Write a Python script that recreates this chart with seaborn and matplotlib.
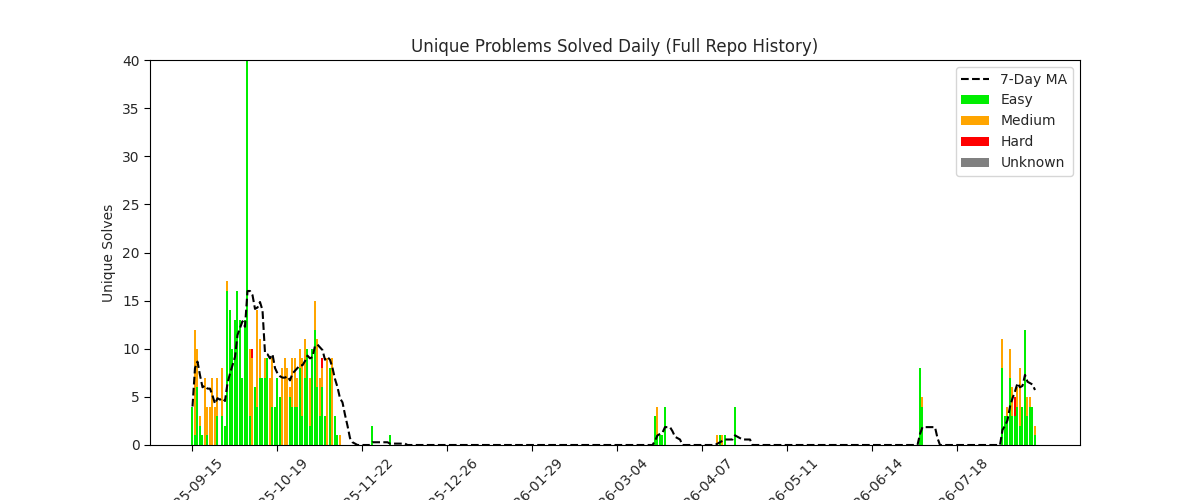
import matplotlib
matplotlib.use("Agg")
import matplotlib.pyplot as plt
import matplotlib.dates as mdates
import seaborn as sns
import pandas as pd

start = pd.Timestamp("2025-09-15")

# day offset from 2025-09-15 -> (easy, medium, hard)
day_offsets = list(range(0, 60)) + [72, 79, 185, 186, 187, 188, 189,
                                    210, 211, 212, 213, 217, 291, 292] + list(range(324, 338))
easy = [4, 1, 6, 2, 1, 0, 1, 0, 0, 0, 3, 0, 3, 2, 16, 14, 10, 13, 16, 13,
        7, 13, 40, 3, 0, 6, 4, 7, 7, 7, 9, 0, 4, 4, 7, 5, 0, 0, 0, 5,
        4, 4, 4, 8, 3, 7, 10, 2, 10, 12, 6, 3, 6, 3, 0, 8, 0, 3, 1, 0,
        2, 1, 3, 1, 1, 1, 4, 0, 1, 0, 1, 4, 8, 4,
        8, 3, 3, 7, 3, 3, 4, 2, 4, 12, 3, 4, 4, 1]
medium = [0, 11, 4, 1, 0, 7, 3, 4, 7, 4, 4, 0, 5, 0, 1, 0, 0, 0, 0, 0,
          0, 0, 0, 7, 9, 0, 10, 4, 0, 2, 0, 7, 5, 0, 0, 0, 8, 9, 8, 1,
          5, 5, 3, 2, 6, 4, 0, 5, 0, 3, 5, 4, 2, 0, 9, 0, 9, 0, 0, 1,
          0, 0, 0, 3, 0, 0, 0, 1, 0, 1, 0, 0, 0, 1,
          3, 0, 1, 3, 3, 0, 2, 6, 0, 0, 2, 1, 0, 1]
hard = [0] * 24 + [1] + [0] * 27 + [1] + [0] * 7 + [0] * 14 + [0, 0, 0, 0, 0, 2, 0, 0, 0, 0, 0, 0, 0, 0]
unknown = [0] * len(day_offsets)

dates = [start + pd.Timedelta(days=d) for d in day_offsets]
df = pd.DataFrame({"Easy": easy, "Medium": medium, "Hard": hard, "Unknown": unknown}, index=dates)
full = df.reindex(pd.date_range(start, start + pd.Timedelta(days=337)), fill_value=0)
total = full.sum(axis=1)
ma = total.rolling(7, min_periods=1).mean()

sns.set_style("white")
fig, ax = plt.subplots(figsize=(12, 5), dpi=100)
colors = {"Easy": "#00ee00", "Medium": "orange", "Hard": "red", "Unknown": "gray"}
bottom = pd.Series(0, index=df.index)
ax.plot(ma.index, ma.values, "k--", linewidth=1.5, label="7-Day MA")
for col in ["Easy", "Medium", "Hard", "Unknown"]:
    ax.bar(df.index, df[col], bottom=bottom, color=colors[col], width=0.8,
           linewidth=0, edgecolor="none", label=col)
    bottom = bottom + df[col]

ax.set_title("Unique Problems Solved Daily (Full Repo History)")
ax.set_ylabel("Unique Solves")
ax.set_ylim(0, 40)
ax.set_xlim(start - pd.Timedelta(days=17), start + pd.Timedelta(days=355))
ticks = [start + pd.Timedelta(days=34 * i) for i in range(10)]
ax.set_xticks(ticks)
ax.xaxis.set_major_formatter(mdates.DateFormatter("%Y-%m-%d"))
plt.setp(ax.get_xticklabels(), rotation=45)
for s in ax.spines.values():
    s.set_color("black")
ax.tick_params(axis="both", direction="out", length=4, color="black", left=True, bottom=True)
ax.legend(loc="upper right")
fig.savefig("out.png", dpi=100)
